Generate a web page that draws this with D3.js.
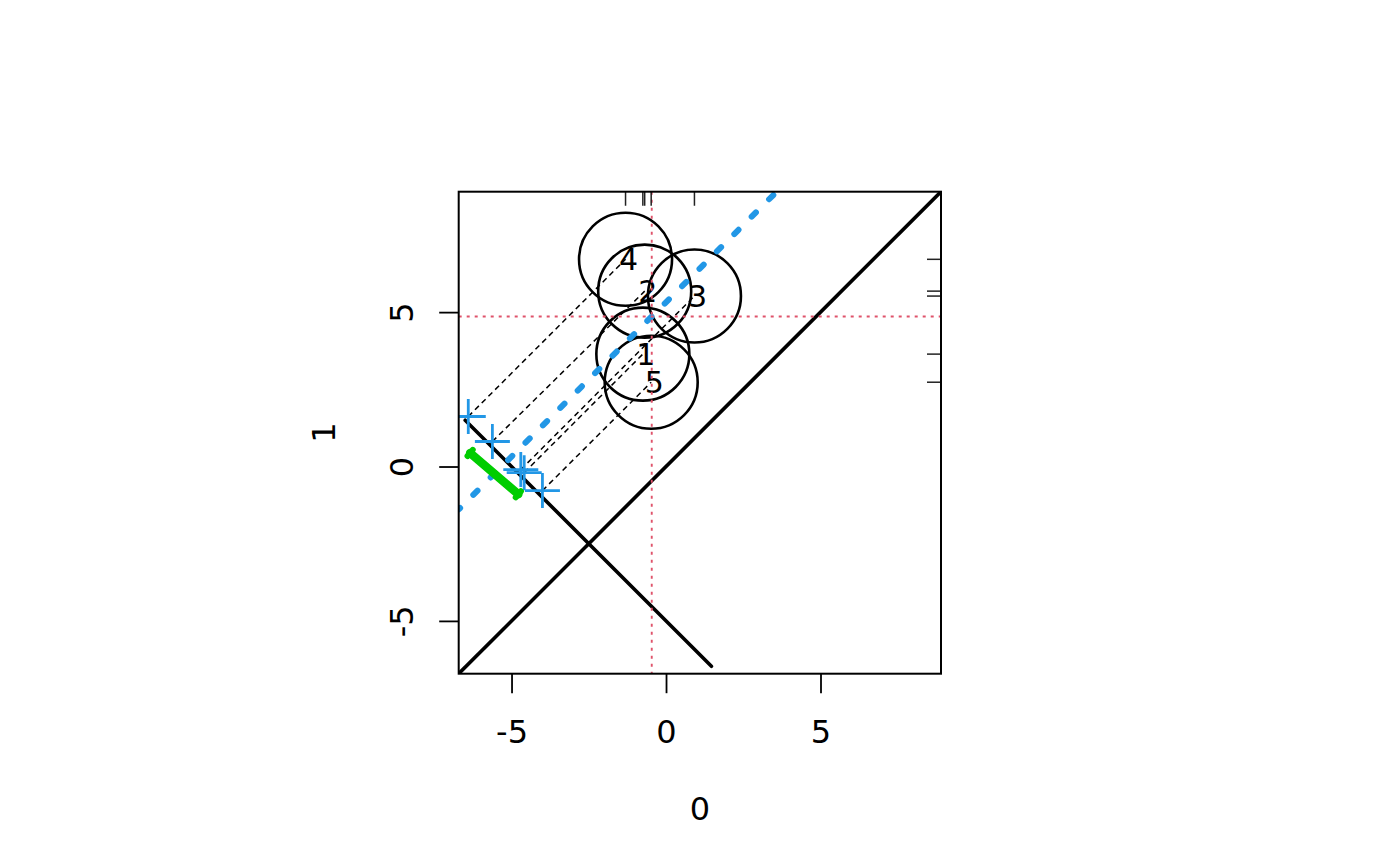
<!DOCTYPE html>
<html>
<head>
<meta charset="utf-8">
<script src="https://cdn.jsdelivr.net/npm/d3@7"></script>
<style>
  html, body { margin: 0; padding: 0; background: #fff; }
  svg { display: block; font-family: "DejaVu Sans", sans-serif; }
</style>
</head>
<body>
<svg id="chart" width="1400" height="866"></svg>
<script>
// ---- data ----
const pointLabels = ["1", "2", "3", "4", "5"];
const xValues = [-0.75, -0.69, 0.92, -1.31, -0.48];
const yValues = [3.64, 5.68, 5.52, 6.71, 2.73];
const crossX = [-4.59, -5.62, -4.70, -6.40, -4.00];
const crossY = [-0.20, 0.81, -0.10, 1.62, -0.78];
const xTicks = [-5, 0, 5];
const yTicks = [-5, 0, 5];
const axisDomain = [-6.71, 8.90];
const antiDiagX = [-6.50, 1.47];
const antiDiagY = [1.50, -6.47];
const meanDiffLineX = [-6.71, 3.58];
const meanDiffLineY = [-1.39, 8.90];
const ciX = [-6.34, -4.78];
const ciY = [0.44, -0.90];
const xTitle = "0";
const yTitle = "1";

// ---- layout ----
const L = 458.7, R = 941, T = 191.7, B = 673.7;
const svg = d3.select("#chart");
const x = d3.scaleLinear().domain(axisDomain).range([L, R]);
const y = d3.scaleLinear().domain(axisDomain).range([B, T]);

svg.append("clipPath").attr("id", "clip")
  .append("rect").attr("x", L).attr("y", T).attr("width", R - L).attr("height", B - T);
const g = svg.append("g").attr("clip-path", "url(#clip)");

const pts = pointLabels.map((l, i) => ({ l, x: xValues[i], y: yValues[i], cx: crossX[i], cy: crossY[i] }));
const line = d3.line().x(d => x(d[0])).y(d => y(d[1]));

// circles
g.selectAll("circle.pt").data(pts).enter().append("circle")
  .attr("cx", d => x(d.x)).attr("cy", d => y(d.y)).attr("r", 46.5)
  .attr("fill", "none").attr("stroke", "#000").attr("stroke-width", 2.6);

// labels
g.selectAll("text.lab").data(pts).enter().append("text")
  .attr("x", d => x(d.x) + 3).attr("y", d => y(d.y))
  .attr("text-anchor", "middle").attr("dominant-baseline", "central")
  .attr("font-size", 30).attr("fill", "#000").text(d => d.l);

// identity line
g.append("path").attr("d", line([[axisDomain[0], axisDomain[0]], [axisDomain[1], axisDomain[1]]]))
  .attr("stroke", "#000").attr("stroke-width", 3.6).attr("fill", "none");

// anti-diagonal line
g.append("path").attr("d", line([[antiDiagX[0], antiDiagY[0]], [antiDiagX[1], antiDiagY[1]]]))
  .attr("stroke", "#000").attr("stroke-width", 3.6).attr("fill", "none").attr("stroke-linecap", "round");

// dashed projection lines
g.selectAll("path.proj").data(pts).enter().append("path")
  .attr("d", d => line([[d.cx, d.cy], [d.x, d.y]]))
  .attr("stroke", "#000").attr("stroke-width", 1.5).attr("fill", "none")
  .attr("stroke-dasharray", "5.5 4");

// crosses
const arm = 17.5;
pts.forEach(d => {
  const px = x(d.cx), py = y(d.cy);
  g.append("path").attr("d", `M${px - arm},${py}H${px + arm}M${px},${py - arm}V${py + arm}`)
    .attr("stroke", "#2297E6").attr("stroke-width", 2.8).attr("fill", "none");
});

// mean difference line (blue dotted)
g.append("path").attr("d", line([[meanDiffLineX[0], meanDiffLineY[0]], [meanDiffLineX[1], meanDiffLineY[1]]]))
  .attr("stroke", "#2297E6").attr("stroke-width", 6).attr("fill", "none")
  .attr("stroke-linecap", "round").attr("stroke-dasharray", "6 18.6").attr("stroke-dashoffset", 4);

// green CI segment with caps
const gx0 = x(ciX[0]), gy0 = y(ciY[0]), gx1 = x(ciX[1]), gy1 = y(ciY[1]);
g.append("path").attr("d", `M${gx0},${gy0}L${gx1},${gy1}`)
  .attr("stroke", "#00CD00").attr("stroke-width", 8.5).attr("fill", "none").attr("stroke-linecap", "round");
{
  const dx = gx1 - gx0, dy = gy1 - gy0, len = Math.hypot(dx, dy);
  const nx = -dy / len * 4, ny = dx / len * 4;
  [[gx0, gy0], [gx1, gy1]].forEach(([cx, cy]) => {
    g.append("path").attr("d", `M${cx - nx},${cy - ny}L${cx + nx},${cy + ny}`)
      .attr("stroke", "#00CD00").attr("stroke-width", 6).attr("stroke-linecap", "round");
  });
}

// mean lines (red dotted)
const mx = d3.mean(xValues), my = d3.mean(yValues);
g.append("line").attr("x1", x(mx)).attr("x2", x(mx)).attr("y1", T).attr("y2", B)
  .attr("stroke", "#DF536B").attr("stroke-width", 1.9).attr("stroke-dasharray", "3 5");
g.append("line").attr("x1", L).attr("x2", R).attr("y1", y(my)).attr("y2", y(my))
  .attr("stroke", "#DF536B").attr("stroke-width", 1.9).attr("stroke-dasharray", "3 5");

// rugs
g.selectAll("line.rugx").data(xValues).enter().append("line")
  .attr("x1", d => x(d)).attr("x2", d => x(d)).attr("y1", T).attr("y2", T + 14)
  .attr("stroke", "#222").attr("stroke-width", 1.5);
g.selectAll("line.rugy").data(yValues).enter().append("line")
  .attr("y1", d => y(d)).attr("y2", d => y(d)).attr("x1", R).attr("x2", R - 14)
  .attr("stroke", "#222").attr("stroke-width", 1.5);

// box
svg.append("rect").attr("x", L).attr("y", T).attr("width", R - L).attr("height", B - T)
  .attr("fill", "none").attr("stroke", "#000").attr("stroke-width", 2);

// axes
const fmt = d => String(d);
const xAxis = svg.append("g").attr("transform", `translate(0,${B})`)
  .call(d3.axisBottom(x).tickValues(xTicks).tickSize(19.5).tickPadding(0).tickFormat(fmt));
xAxis.select(".domain").remove();
xAxis.selectAll(".tick line").attr("stroke", "#000").attr("stroke-width", 1.8);
xAxis.selectAll(".tick text").attr("font-size", 32).attr("font-family", "DejaVu Sans")
  .attr("y", 58).attr("dy", null).attr("dominant-baseline", "central").attr("fill", "#000");

const yAxis = svg.append("g").attr("transform", `translate(${L},0)`)
  .call(d3.axisLeft(y).tickValues(yTicks).tickSize(19.5).tickPadding(0).tickFormat(fmt));
yAxis.select(".domain").remove();
yAxis.selectAll(".tick line").attr("stroke", "#000").attr("stroke-width", 1.8);
yAxis.selectAll(".tick text").attr("font-size", 32).attr("font-family", "DejaVu Sans")
  .attr("x", 0).attr("dy", null).attr("text-anchor", "middle").attr("dominant-baseline", "central")
  .attr("transform", "translate(-57,0) rotate(-90)").attr("fill", "#000");

// axis titles
svg.append("text").attr("x", (L + R) / 2).attr("y", 809).attr("text-anchor", "middle")
  .attr("dominant-baseline", "central").attr("font-size", 32).text(xTitle);
svg.append("text").attr("transform", `translate(324,${(T + B) / 2}) rotate(-90)`)
  .attr("text-anchor", "middle").attr("dominant-baseline", "central").attr("font-size", 32).text(yTitle);
</script>
</body>
</html>
